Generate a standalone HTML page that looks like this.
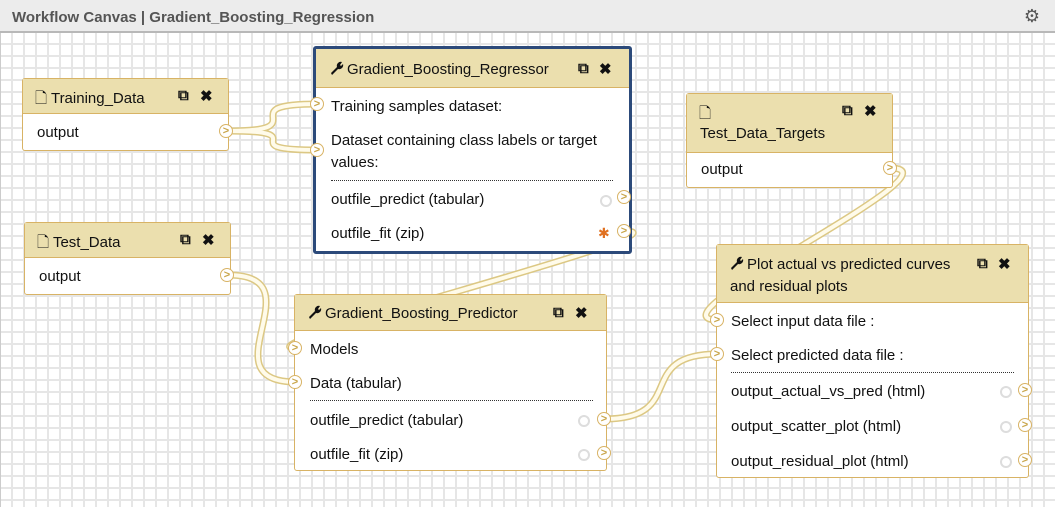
<!DOCTYPE html>
<html><head><meta charset="utf-8"><style>
body{margin:0;width:1055px;height:507px;overflow:hidden;font-family:"Liberation Sans",sans-serif;font-size:15px;color:#111;position:relative;background:#fff}
.top{position:absolute;left:0;top:0;width:1055px;height:33px;background:#ececec;border-bottom:2px solid #b8b8b8;box-sizing:border-box}
.top span{position:absolute;left:12px;top:9px;font-weight:bold;color:#555;font-size:15px}
.canvas{position:absolute;left:0;top:33px;width:1055px;height:474px;border-left:1px solid #ccc;box-sizing:border-box;
background-image:linear-gradient(#e6e6e6 2px,transparent 2px),linear-gradient(90deg,#e6e6e6 2px,transparent 2px);background-size:12px 12px;background-position:-2px -2px}
.node{position:absolute;background:#fff;border:1px solid #d8b365;border-radius:3px;box-sizing:border-box}
.node.sel{border:3px solid #2c4a7a}
.hd{background:#ebdfae;border-bottom:1px solid #d8b365;position:relative;box-sizing:border-box}
.t{position:absolute;white-space:nowrap}
.ic{position:absolute;font-size:15px;font-weight:bold}
.term{position:absolute;width:12px;height:12px;border:1.5px solid #d8b365;border-radius:50%;background:#fff;font-size:11px;font-weight:bold;color:#c9a54a;line-height:12px;text-align:center;box-sizing:content-box}
.dot{position:absolute;border-top:1px dotted #333}
svg{position:absolute;left:0;top:0}
.gear{position:absolute;width:8px;height:8px;border:2px solid #ddd;border-radius:50%}
.wr{display:inline-block;width:14px;height:14px;vertical-align:-1px;margin-right:3px}
</style></head><body>
<div class="top"><span>Workflow Canvas | Gradient_Boosting_Regression</span><div style="position:absolute;right:15px;top:6px;font-size:18px;color:#555">⚙</div></div>
<div class="canvas"></div>

<svg width="1055" height="507">
<g fill="none" stroke="#dcc884" stroke-width="7" stroke-linecap="round">
<path d="M228,131 C320,131 226,104 318,104"/><path d="M228,131 C320,131 226,150 318,150"/>
<path d="M228,275 C320,275 204,382 296,382"/>
<path d="M625,231 C700,231 230,348 296,348"/>
<path d="M890,168 C970,168 640,320 718,320"/>
<path d="M604,419 C690,419 632,354 718,354"/>
</g>
<g fill="none" stroke="#fffbea" stroke-width="4" stroke-linecap="round">
<path d="M228,131 C320,131 226,104 318,104"/><path d="M228,131 C320,131 226,150 318,150"/>
<path d="M228,275 C320,275 204,382 296,382"/>
<path d="M625,231 C700,231 230,348 296,348"/>
<path d="M890,168 C970,168 640,320 718,320"/>
<path d="M604,419 C690,419 632,354 718,354"/>
</g>
</svg>

<!-- Training_Data -->
<div class="node" style="left:22px;top:78px;width:207px;height:73px">
<div class="hd" style="height:35px"><span class="t" style="left:12px;top:9px">🗋 Training_Data</span><span class="ic" style="left:155px;top:8px">⧉</span><span class="ic" style="left:177px;top:8px">✖</span></div>
<span class="t" style="left:14px;top:45px">output</span></div>
<div class="term" style="left:219px;top:124px">&gt;</div>

<!-- Test_Data -->
<div class="node" style="left:24px;top:222px;width:207px;height:73px">
<div class="hd" style="height:35px"><span class="t" style="left:12px;top:9px">🗋 Test_Data</span><span class="ic" style="left:155px;top:8px">⧉</span><span class="ic" style="left:177px;top:8px">✖</span></div>
<span class="t" style="left:14px;top:45px">output</span></div>
<div class="term" style="left:220px;top:268px">&gt;</div>

<!-- Regressor -->
<div class="node sel" style="left:313px;top:46px;width:319px;height:208px">
<div class="hd" style="height:39px"><span class="t" style="left:14px;top:12px"><svg class="wr" style="position:static" viewBox="0 0 14 14"><path d="M1,12 L7,6 A4,4 0 0 1 12,1 L10,4 L11,5 L13,3 A4,4 0 0 1 8,8 L2,14 Z" fill="#111"/></svg>Gradient_Boosting_Regressor</span><span class="ic" style="left:262px;top:11px">⧉</span><span class="ic" style="left:283px;top:11px">✖</span></div>
<span class="t" style="left:15px;top:49px">Training samples dataset:</span>
<span class="t" style="left:15px;top:83px">Dataset containing class labels or target</span>
<span class="t" style="left:15px;top:105px">values:</span>
<div class="dot" style="left:15px;top:131px;width:282px"></div>
<span class="t" style="left:15px;top:142px">outfile_predict (tabular)</span>
<span class="t" style="left:15px;top:176px">outfile_fit (zip)</span>
<div class="gear" style="left:284px;top:146px"></div>
<span class="t" style="left:282px;top:176px;color:#e07020;font-size:14px">✱</span>
</div>
<div class="term" style="left:310px;top:97px">&gt;</div>
<div class="term" style="left:310px;top:143px">&gt;</div>
<div class="term" style="left:617px;top:190px">&gt;</div>
<div class="term" style="left:617px;top:224px">&gt;</div>

<!-- Test_Data_Targets -->
<div class="node" style="left:686px;top:93px;width:207px;height:95px">
<div class="hd" style="height:59px"><span class="t" style="left:12px;top:9px">🗋</span><span class="t" style="left:13px;top:31px">Test_Data_Targets</span><span class="ic" style="left:155px;top:8px">⧉</span><span class="ic" style="left:177px;top:8px">✖</span></div>
<span class="t" style="left:14px;top:67px">output</span></div>
<div class="term" style="left:883px;top:161px">&gt;</div>

<!-- Predictor -->
<div class="node" style="left:294px;top:294px;width:313px;height:177px">
<div class="hd" style="height:36px"><span class="t" style="left:13px;top:10px"><svg class="wr" style="position:static" viewBox="0 0 14 14"><path d="M1,12 L7,6 A4,4 0 0 1 12,1 L10,4 L11,5 L13,3 A4,4 0 0 1 8,8 L2,14 Z" fill="#111"/></svg>Gradient_Boosting_Predictor</span><span class="ic" style="left:258px;top:9px">⧉</span><span class="ic" style="left:280px;top:9px">✖</span></div>
<span class="t" style="left:15px;top:46px">Models</span>
<span class="t" style="left:15px;top:80px">Data (tabular)</span>
<div class="dot" style="left:15px;top:105px;width:283px"></div>
<span class="t" style="left:15px;top:117px">outfile_predict (tabular)</span>
<span class="t" style="left:15px;top:151px">outfile_fit (zip)</span>
<div class="gear" style="left:283px;top:120px"></div><div class="gear" style="left:283px;top:154px"></div>
</div>
<div class="term" style="left:288px;top:341px">&gt;</div>
<div class="term" style="left:288px;top:375px">&gt;</div>
<div class="term" style="left:597px;top:412px">&gt;</div>
<div class="term" style="left:597px;top:446px">&gt;</div>

<!-- Plot -->
<div class="node" style="left:716px;top:244px;width:313px;height:234px">
<div class="hd" style="height:58px"><span class="t" style="left:13px;top:11px"><svg class="wr" style="position:static" viewBox="0 0 14 14"><path d="M1,12 L7,6 A4,4 0 0 1 12,1 L10,4 L11,5 L13,3 A4,4 0 0 1 8,8 L2,14 Z" fill="#111"/></svg>Plot actual vs predicted curves</span><span class="t" style="left:13px;top:33px">and residual plots</span><span class="ic" style="left:260px;top:10px">⧉</span><span class="ic" style="left:281px;top:10px">✖</span></div>
<span class="t" style="left:14px;top:68px">Select input data file :</span>
<span class="t" style="left:14px;top:102px">Select predicted data file :</span>
<div class="dot" style="left:14px;top:127px;width:283px"></div>
<span class="t" style="left:14px;top:138px">output_actual_vs_pred (html)</span>
<span class="t" style="left:14px;top:173px">output_scatter_plot (html)</span>
<span class="t" style="left:14px;top:208px">output_residual_plot (html)</span>
<div class="gear" style="left:283px;top:141px"></div><div class="gear" style="left:283px;top:176px"></div><div class="gear" style="left:283px;top:211px"></div>
</div>
<div class="term" style="left:710px;top:313px">&gt;</div>
<div class="term" style="left:710px;top:347px">&gt;</div>
<div class="term" style="left:1018px;top:383px">&gt;</div>
<div class="term" style="left:1018px;top:418px">&gt;</div>
<div class="term" style="left:1018px;top:453px">&gt;</div>
</body></html>
